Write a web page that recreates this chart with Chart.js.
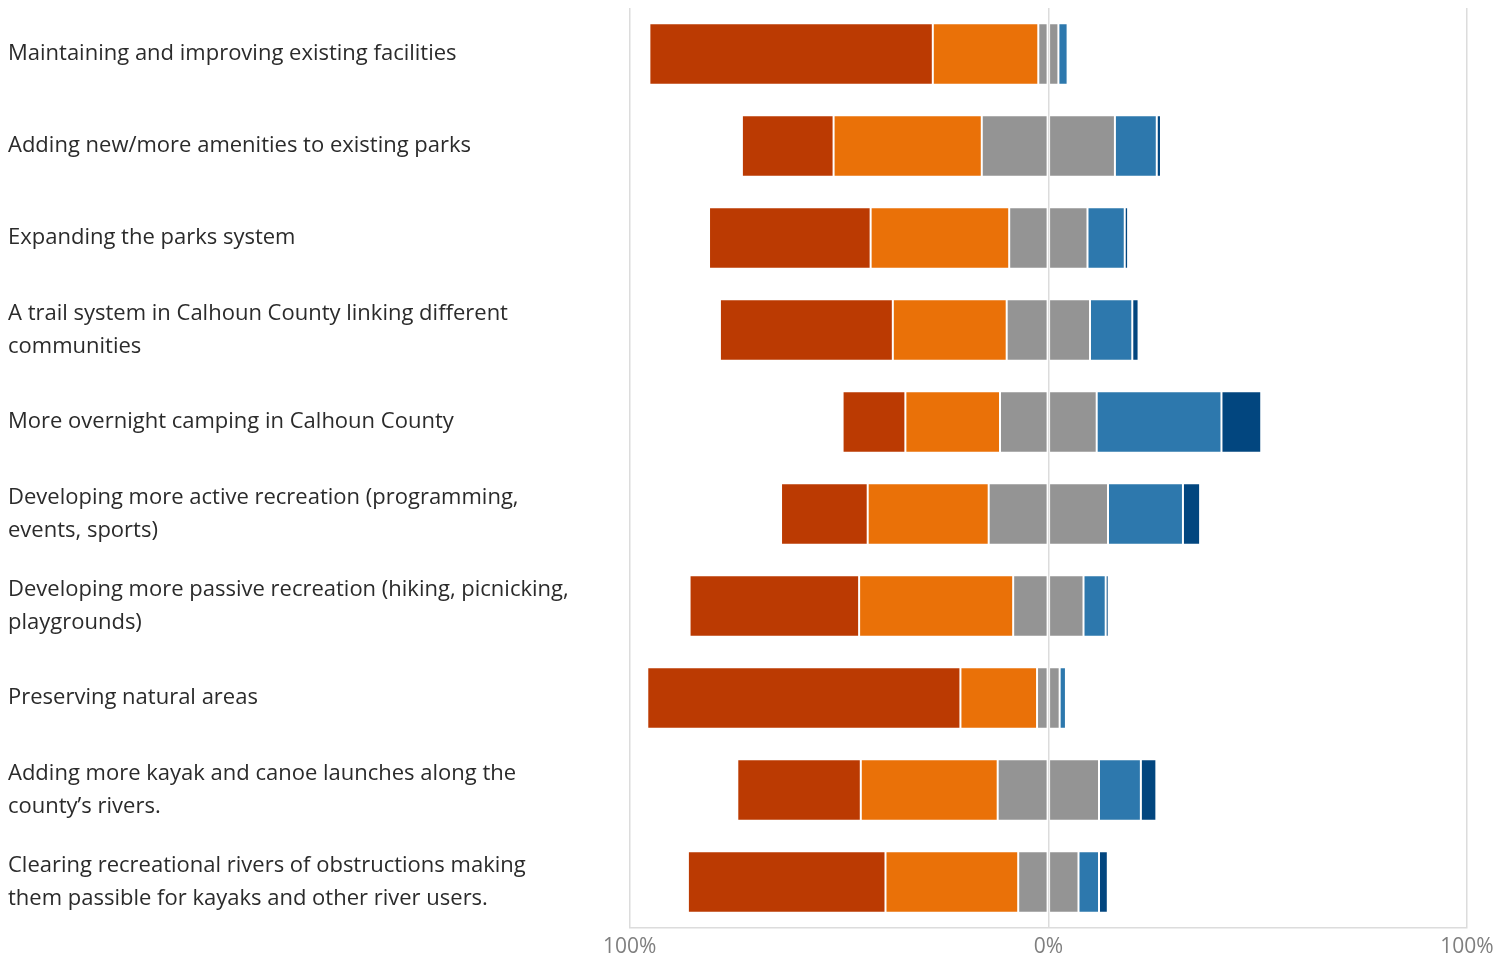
<!DOCTYPE html>
<html>
<head>
<meta charset="utf-8">
<script src="https://cdn.jsdelivr.net/npm/chart.js@4.4.1/dist/chart.umd.min.js"></script>
<style>
  html,body{margin:0;padding:0;background:#fff;}
  #wrap{width:1497px;height:959px;position:relative;}
</style>
</head>
<body>
<div id="wrap"><canvas id="likert"></canvas></div>
<script>
// categories (multi-line where the label wraps)
const categories = [
  ['Maintaining and improving existing facilities'],
  ['Adding new/more amenities to existing parks'],
  ['Expanding the parks system'],
  ['A trail system in Calhoun County linking different', 'communities'],
  ['More overnight camping in Calhoun County'],
  ['Developing more active recreation (programming,', 'events, sports)'],
  ['Developing more passive recreation (hiking, picnicking,', 'playgrounds)'],
  ['Preserving natural areas'],
  ['Adding more kayak and canoe launches along the', 'county\u2019s rivers.'],
  ['Clearing recreational rivers of obstructions making', 'them passible for kayaks and other river users.']
];

// shares in percent
const veryImportant  = [67.7, 21.9, 38.6, 41.3, 15.0, 20.7, 40.5, 74.8, 29.5, 47.2];
const important      = [25.2, 35.4, 33.1, 27.2, 22.6, 28.9, 36.8, 18.3, 32.7, 31.7];
const neutral        = [ 4.8, 31.8, 18.7, 19.9, 23.1, 28.5, 16.8,  5.4, 24.2, 14.4];
const lessImportant  = [ 2.2, 10.0,  8.9, 10.1, 29.8, 17.9,  5.3,  1.5, 10.0,  4.9];
const notImportant   = [ 0.0,  1.0,  0.8,  1.5,  9.5,  4.1,  0.7,  0.0,  3.7,  2.1];

const axisTicks = [-100, 0, 100];

const colors = {
  veryImportant: '#BB3A02',
  important: '#EA7108',
  neutral: '#949494',
  lessImportant: '#2D78AD',
  notImportant: '#02467F'
};

const neg = arr => arr.map(v => -v);
const half = arr => arr.map(v => v / 2);

function ds(label, data, color){
  return {
    label, data,
    backgroundColor: color,
    borderColor: 'rgba(255,255,255,0.22)',
    borderWidth: 1,
    borderSkipped: false,
    stack: 's',
    barPercentage: 0.67,
    categoryPercentage: 1
  };
}

// negative side first: the first negative dataset sits next to 0
const datasets = [
  ds('Neutral (left)', neg(half(neutral)), colors.neutral),
  ds('Important', neg(important), colors.important),
  ds('Very important', neg(veryImportant), colors.veryImportant),
  ds('Neutral (right)', half(neutral), colors.neutral),
  ds('Less important', lessImportant, colors.lessImportant),
  ds('Not important', notImportant, colors.notImportant)
];

const ctx = document.getElementById('likert').getContext('2d');
new Chart(ctx, {
  type: 'bar',
  data: { labels: categories, datasets },
  options: {
    indexAxis: 'y',
    responsive: true,
    maintainAspectRatio: false,
    animation: false,
    layout: { padding: { left: 8, right: 30, top: 8, bottom: 1 } },
    plugins: { legend: { display: false }, tooltip: { enabled: false } },
    scales: {
      x: {
        stacked: true,
        min: axisTicks[0],
        max: axisTicks[axisTicks.length - 1],
        afterBuildTicks: s => { s.ticks = axisTicks.map(v => ({ value: v })); },
        afterFit: s => { s.height = 30; s.paddingLeft = 0; s.paddingRight = 0; },
        grid: { color: '#dcdcdc', drawTicks: false, lineWidth: 1.5 },
        border: { display: true, color: '#dcdcdc', width: 1.5 },
        ticks: {
          padding: 6,
          color: '#7f7f7f',
          font: { family: 'Open Sans', size: 21 },
          callback: v => Math.abs(v) + '%'
        }
      },
      y: {
        stacked: true,
        grid: { display: false, drawTicks: false },
        border: { display: false },
        afterFit: s => { s.width = 621.7; s.paddingTop = 0; s.paddingBottom = 0; },
        ticks: {
          crossAlign: 'far',
          padding: 0,
          color: '#2b2b2b',
          font: { family: 'Open Sans', size: 22, lineHeight: 1.5 }
        }
      }
    }
  }
});
</script>
</body>
</html>
